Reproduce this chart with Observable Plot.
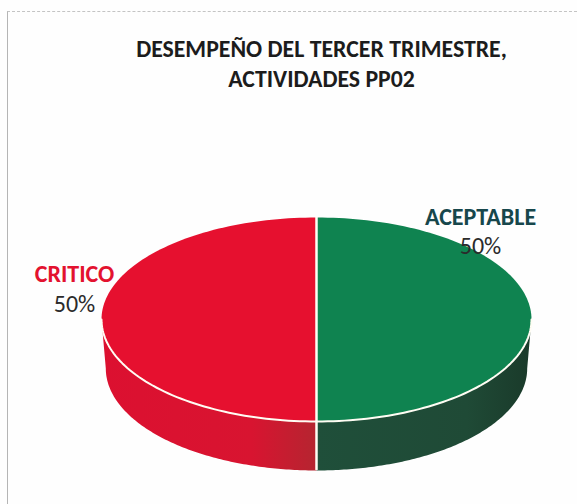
<!DOCTYPE html>
<html lang="es">
<head>
<meta charset="utf-8">
<script src="https://cdn.jsdelivr.net/npm/d3@7"></script>
<script src="https://cdn.jsdelivr.net/npm/@observablehq/plot@0.6"></script>
<style>
  html, body { margin: 0; padding: 0; background: #fefefe; overflow: hidden; }
  #page { position: relative; width: 577px; height: 504px; overflow: hidden; }
  #frame { position: absolute; left: 7px; top: 11px; width: 570px; height: 493px;
           border-left: 1px solid #b5b5b5; border-top: 1px dashed #c4c4c4; box-sizing: border-box; }
  #title { position: absolute; left: 0; top: 34px; width: 643px; margin: 0; text-align: center;
           font: bold 23.8px/30px Carlito, Lato, sans-serif; color: #1c1c1c; }
  #chart { position: absolute; left: 0; top: 100px; }
  svg { display: block; background: transparent !important; }
</style>
</head>
<body>
<div id="page">
  <div id="frame"></div>
  <h1 id="title">DESEMPEÑO DEL TERCER TRIMESTRE,<br>ACTIVIDADES PP02</h1>
  <div id="chart"></div>
</div>
<script>
const categories = ["ACEPTABLE", "CRITICO"];
const shares = [50, 50];
const valueLabels = ["50%", "50%"];
const topColors = ["#0f8350", "#e6102f"];
const labelColors = ["#17474c", "#e3122f"];

const total = d3.sum(shares);
const cum = d3.cumsum(shares);
const slices = categories.map((name, i) => ({
  name,
  label: valueLabels[i],
  start: ((i ? cum[i - 1] : 0) / total) * 2 * Math.PI,
  end: (cum[i] / total) * 2 * Math.PI
}));
slices.forEach(s => {
  const mid = (s.start + s.end) / 2;
  s.mx = Math.sin(mid);
  s.my = -Math.cos(mid);
});

const depth = 0.48, bottomRx = 0.98;
const arc = (a0, a1, rx = 1, dy = 0, n = 120) =>
  d3.range(n + 1).map(i => {
    const a = a0 + ((a1 - a0) * i) / n;
    return { x: rx * Math.sin(a), y: -Math.cos(a) + dy };
  });

const topFace = s => [{ x: 0, y: 0 }, ...arc(s.start, s.end), { x: 0, y: 0 }];
// the visible front wall: only the part of each slice's rim facing the viewer
const frontWall = s => {
  const a0 = Math.max(s.start, Math.PI / 2), a1 = Math.min(s.end, (3 * Math.PI) / 2);
  return [...arc(a0, a1), ...arc(a1, a0, bottomRx, depth)];
};
const rim = arc(Math.PI / 2, (3 * Math.PI) / 2);

const gradient = (id, stops) => () => {
  const svg = d3.create("svg:g");
  const g = svg.append("defs").append("linearGradient").attr("id", id);
  stops.forEach(([o, c]) => g.append("stop").attr("offset", o).attr("stop-color", c));
  return svg.node();
};

const xy = { x: "x", y: "y" };
const labelFont = { fontFamily: "Carlito, Lato, sans-serif", fontSize: 24 };
const plot = Plot.plot({
  width: 577,
  height: 404,
  margin: 0,
  style: { background: "transparent" },
  x: { domain: [-1, 1], range: [101, 531], axis: null },
  y: { domain: [-1, 1], range: [117, 321], axis: null },
  marks: [
    gradient("wall0", [[0, "#1f4f3a"], [0.7, "#1f4a36"], [1, "#1a3a2a"]]),
    gradient("wall1", [[0, "#dc1030"], [0.7, "#d81430"], [1, "#b52530"]]),
    ...slices.map((s, i) => Plot.line(frontWall(s), { ...xy, fill: `url(#wall${i})`, stroke: "none" })),
    ...slices.map((s, i) => Plot.line(topFace(s), { ...xy, fill: topColors[i], stroke: "none" })),
    Plot.line(rim, { ...xy, stroke: "#fffdf4", strokeWidth: 2 }),
    Plot.ruleX([0], { y1: -1, y2: 1 + depth, stroke: "#fffdf4", strokeWidth: 2.5 }),
    // labels, placed relative to the middle of each slice's rim
    ...slices.map((s, i) => Plot.text([s], {
      x: "mx", y: "my", text: "name", fill: labelColors[i], fontWeight: "bold", ...labelFont,
      dx: i ? -27 : -51, dy: i ? -45 : -102
    })),
    ...slices.map((s, i) => Plot.text([s], {
      x: "mx", y: "my", text: "label", fill: "#2b2b2b", ...labelFont,
      dx: i ? -27 : -51, dy: i ? -15 : -73
    }))
  ]
});
document.getElementById("chart").appendChild(plot);
</script>
</body>
</html>
